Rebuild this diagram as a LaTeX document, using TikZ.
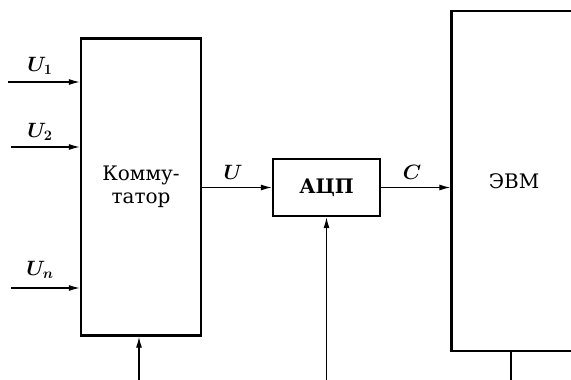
\documentclass[tikz,border=0pt]{standalone}
\usepackage{fontspec}
\setmainfont{DejaVu Serif}
\usetikzlibrary{arrows.meta}
\begin{document}
\begin{tikzpicture}[x=1pt,y=-1pt,
  block/.style={draw,line width=2.4pt,inner sep=0pt,font=\fontsize{20}{23}\selectfont},
  sig/.style={line width=1.2pt,-{Latex[length=11pt,width=6pt]}},
  wire/.style={line width=1.2pt},
  lbl/.style={font=\fontsize{20}{23}\selectfont\boldmath}]
\useasboundingbox (0,0) rectangle (571,380);
% blocks
\node[block,minimum width=120pt,minimum height=297pt,align=center] (kom) at (141,187)
  {Комму-\\татор};
\node[block,minimum width=107pt,minimum height=57pt,font=\fontsize{20}{23}\selectfont\bfseries] (adc) at (326.5,187.5) {АЦП};
\node[block,minimum width=125pt,minimum height=340pt] (evm) at (514,181) {ЭВМ};
% inputs of the commutator
\coordinate (i1) at (8,82);
\coordinate (i2) at (11,147);
\coordinate (i3) at (11,288);
\draw[sig] (i1) -- (kom.west |- i1);
\draw[sig] (i2) -- (kom.west |- i2);
\draw[sig] (i3) -- (kom.west |- i3);
\node[lbl] (l1) at (40,66) {$U_1$};
\node[lbl] (l2) at (40,132) {$U_2$};
\node[lbl] (l3) at (40,270) {$U_n$};
% data path
\draw[sig] (kom.east |- adc.west) -- (adc.west);
\draw[sig] (adc.east) -- (evm.west |- adc.east);
\node[lbl] (lu) at (233,172) {$U$};
\node[lbl] (lc) at (412,172) {$C$};
% control lines
\coordinate (b1) at (139,380);
\coordinate (b2) at (326.5,380);
\coordinate (b3) at (511,380);
\draw[sig] (b1) -- (b1 |- kom.south);
\draw[sig] (b2) -- (adc.south);
\draw[wire] (b3 |- evm.south) -- (b3);
\end{tikzpicture}
\end{document}
